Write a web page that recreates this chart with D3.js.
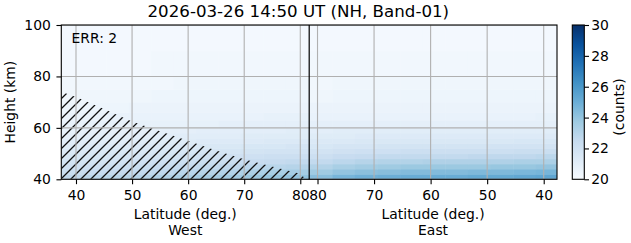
<!DOCTYPE html>
<html>
<head>
<meta charset="utf-8">
<script src="https://cdn.jsdelivr.net/npm/d3@7"></script>
<style>
  html, body { margin: 0; padding: 0; background: #fff; }
  svg { display: block; font-family: "DejaVu Sans", sans-serif; }
</style>
</head>
<body>
<div id="chart"></div>
<script>
// height bins (km), bottom edge of each row + top edge
var heightEdges = [40, 42, 44, 46, 48, 50, 52, 54, 56, 58, 60, 63, 66, 70, 75, 80, 90, 100];

// latitude bins (deg.), west side goes pole-ward, east side comes back
var latEdgesWest = [37.38, 41.4, 45.4, 49.4, 53.4, 57.4, 61.4, 65.4, 69.4, 73.4, 77.4, 81.59];
var latEdgesEast = [81.47, 77.4, 73.4, 69.4, 65.4, 61.4, 57.4, 53.4, 49.4, 45.4, 41.4, 37.65];

// counts, one row per height bin (bottom -> top), columns left -> right
var countsWest = [
    [22.7, 22.8, 22.9, 23.0, 23.2, 23.3, 23.5, 23.6, 23.8, 23.9, 24.0],
    [22.3, 22.4, 22.5, 22.6, 22.7, 22.9, 23.0, 23.1, 23.3, 23.4, 23.5],
    [22.0, 22.1, 22.2, 22.3, 22.4, 22.5, 22.6, 22.7, 22.8, 22.9, 23.0],
    [21.8, 21.8, 21.9, 22.0, 22.1, 22.2, 22.3, 22.3, 22.4, 22.5, 22.6],
    [21.6, 21.6, 21.7, 21.7, 21.8, 21.9, 22.0, 22.0, 22.1, 22.2, 22.2],
    [21.4, 21.4, 21.5, 21.5, 21.6, 21.6, 21.7, 21.7, 21.8, 21.9, 21.9],
    [21.2, 21.3, 21.3, 21.4, 21.4, 21.4, 21.5, 21.5, 21.6, 21.6, 21.7],
    [21.1, 21.1, 21.1, 21.2, 21.2, 21.2, 21.3, 21.3, 21.3, 21.4, 21.4],
    [20.9, 21.0, 21.0, 21.0, 21.0, 21.1, 21.1, 21.1, 21.2, 21.2, 21.2],
    [20.8, 20.9, 20.9, 20.9, 20.9, 20.9, 21.0, 21.0, 21.0, 21.0, 21.1],
    [20.7, 20.8, 20.8, 20.8, 20.8, 20.8, 20.8, 20.9, 20.9, 20.9, 20.9],
    [20.6, 20.6, 20.7, 20.7, 20.7, 20.7, 20.7, 20.7, 20.7, 20.8, 20.8],
    [20.5, 20.5, 20.5, 20.6, 20.6, 20.6, 20.6, 20.6, 20.6, 20.6, 20.6],
    [20.4, 20.4, 20.4, 20.4, 20.5, 20.5, 20.5, 20.5, 20.5, 20.5, 20.5],
    [20.3, 20.3, 20.3, 20.3, 20.3, 20.4, 20.4, 20.4, 20.4, 20.4, 20.4],
    [20.2, 20.2, 20.2, 20.2, 20.3, 20.3, 20.3, 20.3, 20.3, 20.3, 20.3],
    [20.2, 20.2, 20.2, 20.2, 20.2, 20.2, 20.2, 20.2, 20.2, 20.2, 20.2]
];
var countsEast = [
    [24.3, 24.7, 24.9, 25.0, 25.1, 25.1, 25.1, 25.2, 25.2, 25.3, 25.4],
    [23.7, 24.0, 24.2, 24.3, 24.4, 24.4, 24.4, 24.5, 24.5, 24.6, 24.7],
    [23.1, 23.4, 23.6, 23.7, 23.8, 23.8, 23.8, 23.8, 23.9, 23.9, 24.0],
    [22.6, 22.8, 23.0, 23.1, 23.1, 23.2, 23.2, 23.2, 23.2, 23.3, 23.3],
    [22.2, 22.4, 22.5, 22.6, 22.6, 22.6, 22.6, 22.7, 22.7, 22.7, 22.8],
    [21.9, 22.0, 22.1, 22.1, 22.2, 22.2, 22.2, 22.2, 22.2, 22.3, 22.3],
    [21.6, 21.7, 21.7, 21.8, 21.8, 21.8, 21.8, 21.8, 21.9, 21.9, 21.9],
    [21.4, 21.4, 21.5, 21.5, 21.5, 21.5, 21.5, 21.5, 21.5, 21.6, 21.6],
    [21.2, 21.2, 21.3, 21.3, 21.3, 21.3, 21.3, 21.3, 21.3, 21.3, 21.3],
    [21.0, 21.1, 21.1, 21.1, 21.1, 21.1, 21.1, 21.1, 21.1, 21.1, 21.1],
    [20.9, 20.9, 20.9, 20.9, 20.9, 20.9, 20.9, 20.9, 20.9, 20.9, 20.9],
    [20.7, 20.7, 20.7, 20.7, 20.7, 20.7, 20.7, 20.7, 20.7, 20.7, 20.8],
    [20.6, 20.6, 20.6, 20.6, 20.6, 20.6, 20.6, 20.6, 20.6, 20.6, 20.6],
    [20.4, 20.5, 20.5, 20.5, 20.5, 20.5, 20.5, 20.5, 20.5, 20.5, 20.5],
    [20.3, 20.4, 20.4, 20.4, 20.4, 20.4, 20.4, 20.4, 20.4, 20.4, 20.4],
    [20.3, 20.3, 20.3, 20.3, 20.3, 20.3, 20.3, 20.3, 20.3, 20.3, 20.3],
    [20.2, 20.2, 20.2, 20.2, 20.2, 20.2, 20.2, 20.2, 20.2, 20.2, 20.2]
];

// hatched (no data) region on the west side: top of region per latitude
var hatchLat = [37.38, 40, 45, 50, 55, 60, 65, 70, 75, 80, 81];
var hatchTop = [74, 72, 67.3, 62.5, 58.7, 55, 51.2, 47.8, 45, 42.2, 40];

var latTicks = [40, 50, 60, 70, 80];
var heightTicks = [40, 60, 80, 100];
var countTicks = [20, 22, 24, 26, 28, 30];

var title = '2026-03-26 14:50 UT (NH, Band-01)';
var errText = 'ERR: 2';

// matplotlib "Blues"
var blues = ['#f7fbff', '#deebf7', '#c6dbef', '#9ecae1', '#6baed6', '#4292c6', '#2171b5', '#08519c', '#08306b'];

var W = 631, H = 243;
var plot = { left: 61.3, right: 557, top: 25, bottom: 179.3 };
var mid = 309.2;
var cbar = { left: 572.3, right: 584.3 };
var fs = 13.9;

var svg = d3.select('#chart').append('svg')
    .attr('width', W)
    .attr('height', H);

var xW = d3.scaleLinear().domain([37.38, 81.59]).range([plot.left, mid]);
var xE = d3.scaleLinear().domain([81.47, 37.65]).range([mid, plot.right]);
var y = d3.scaleLinear().domain([40, 100]).range([plot.bottom, plot.top]);

var cDomain = blues.map(function (d, i) { return 20 + i * 10 / (blues.length - 1); });
var color = d3.scaleLinear().domain(cDomain).range(blues).clamp(true);

var defs = svg.append('defs');
defs.append('clipPath').attr('id', 'clip')
    .append('rect')
    .attr('x', plot.left).attr('y', plot.top)
    .attr('width', plot.right - plot.left).attr('height', plot.bottom - plot.top);

var g = svg.append('g').attr('clip-path', 'url(#clip)');

// heatmap cells
function drawSide(counts, edges, x) {
    counts.forEach(function (row, i) {
        g.append('g').selectAll('rect')
            .data(row)
            .enter()
            .append('rect')
            .attr('x', function (d, j) { return Math.min(x(edges[j]), x(edges[j + 1])); })
            .attr('width', function (d, j) { return Math.abs(x(edges[j + 1]) - x(edges[j])) + 0.5; })
            .attr('y', y(heightEdges[i + 1]))
            .attr('height', y(heightEdges[i]) - y(heightEdges[i + 1]) + 0.5)
            .attr('fill', function (d) { return color(d); });
    });
}
drawSide(countsWest, latEdgesWest, xW);
drawSide(countsEast, latEdgesEast, xE);

// hatch
var hs = 10;
var pat = defs.append('pattern')
    .attr('id', 'hatch')
    .attr('patternUnits', 'userSpaceOnUse')
    .attr('width', hs).attr('height', hs);
pat.append('path')
    .attr('d', 'M0,' + hs + 'L' + hs + ',0M-2,2L2,-2M' + (hs - 2) + ',' + (hs + 2) + 'L' + (hs + 2) + ',' + (hs - 2))
    .attr('stroke', '#111')
    .attr('stroke-width', 1.3);

var hatchArea = d3.area()
    .x(function (d) { return xW(d); })
    .y0(y(40))
    .y1(function (d, i) { return y(hatchTop[i]); });

g.append('path')
    .datum(hatchLat)
    .attr('d', hatchArea)
    .attr('fill', 'url(#hatch)');

// grid
var grid = g.append('g').attr('stroke', '#b0b0b0').attr('stroke-width', 1.1);
latTicks.forEach(function (t) {
    grid.append('line').attr('x1', xW(t)).attr('x2', xW(t)).attr('y1', plot.top).attr('y2', plot.bottom);
    grid.append('line').attr('x1', xE(t)).attr('x2', xE(t)).attr('y1', plot.top).attr('y2', plot.bottom);
});
heightTicks.forEach(function (t) {
    grid.append('line').attr('x1', plot.left).attr('x2', plot.right).attr('y1', y(t)).attr('y2', y(t));
});

// divider between west and east passes
svg.append('line')
    .attr('x1', mid).attr('x2', mid)
    .attr('y1', plot.top).attr('y2', plot.bottom)
    .attr('stroke', '#000').attr('stroke-width', 1.2);

// axes
function styleAxis(sel) {
    sel.attr('font-family', null).attr('font-size', null);
    sel.select('.domain').remove();
    sel.selectAll('line').attr('stroke', '#000').attr('stroke-width', 1.1);
    sel.selectAll('text').attr('fill', '#000').style('font-size', fs + 'px');
}

svg.append('g')
    .attr('transform', 'translate(0,' + plot.bottom + ')')
    .call(d3.axisBottom(xW).tickValues(latTicks).tickSize(4.86).tickPadding(6.4).tickFormat(d3.format('d')))
    .call(styleAxis);
svg.append('g')
    .attr('transform', 'translate(0,' + plot.bottom + ')')
    .call(d3.axisBottom(xE).tickValues(latTicks).tickSize(4.86).tickPadding(6.4).tickFormat(d3.format('d')))
    .call(styleAxis);
svg.append('g')
    .attr('transform', 'translate(' + plot.left + ',0)')
    .call(d3.axisLeft(y).tickValues(heightTicks).tickSize(4.86).tickPadding(5.6))
    .call(styleAxis);

// frame
svg.append('rect')
    .attr('x', plot.left).attr('y', plot.top)
    .attr('width', plot.right - plot.left).attr('height', plot.bottom - plot.top)
    .attr('fill', 'none').attr('stroke', '#000').attr('stroke-width', 1.1);

// labels
svg.append('text')
    .attr('x', 298.3).attr('y', 17)
    .attr('text-anchor', 'middle')
    .style('font-size', '16.67px')
    .text(title);

svg.append('text')
    .attr('x', 71.5).attr('y', 43.2)
    .style('font-size', fs + 'px')
    .text(errText);

[['West', plot.left, mid], ['East', mid, plot.right]].forEach(function (s) {
    var cx = (s[1] + s[2]) / 2;
    svg.append('text')
        .attr('x', cx).attr('y', 219.4)
        .attr('text-anchor', 'middle')
        .style('font-size', fs + 'px')
        .text('Latitude (deg.)');
    svg.append('text')
        .attr('x', cx).attr('y', 235.2)
        .attr('text-anchor', 'middle')
        .style('font-size', fs + 'px')
        .text(s[0]);
});

svg.append('text')
    .attr('transform', 'translate(15.3,' + ((plot.top + plot.bottom) / 2) + ') rotate(-90)')
    .attr('text-anchor', 'middle')
    .style('font-size', fs + 'px')
    .text('Height (km)');

// colorbar
var cy = d3.scaleLinear().domain([20, 30]).range([plot.bottom, plot.top]);
var grad = defs.append('linearGradient')
    .attr('id', 'cgrad')
    .attr('x1', 0).attr('x2', 0).attr('y1', 1).attr('y2', 0);
grad.selectAll('stop')
    .data(cDomain)
    .enter()
    .append('stop')
    .attr('offset', function (d) { return (d - 20) / 10; })
    .attr('stop-color', function (d) { return color(d); });

svg.append('rect')
    .attr('x', cbar.left).attr('y', cy(30))
    .attr('width', cbar.right - cbar.left).attr('height', cy(20) - cy(30))
    .attr('fill', 'url(#cgrad)')
    .attr('stroke', '#000').attr('stroke-width', 1.1);

svg.append('g')
    .attr('transform', 'translate(' + cbar.right + ',0)')
    .call(d3.axisRight(cy).tickValues(countTicks).tickSize(4.7).tickPadding(2.2))
    .call(styleAxis);

svg.append('text')
    .attr('transform', 'translate(624,107) rotate(-90)')
    .attr('text-anchor', 'middle')
    .style('font-size', fs + 'px')
    .text('(counts)');
</script>
</body>
</html>
